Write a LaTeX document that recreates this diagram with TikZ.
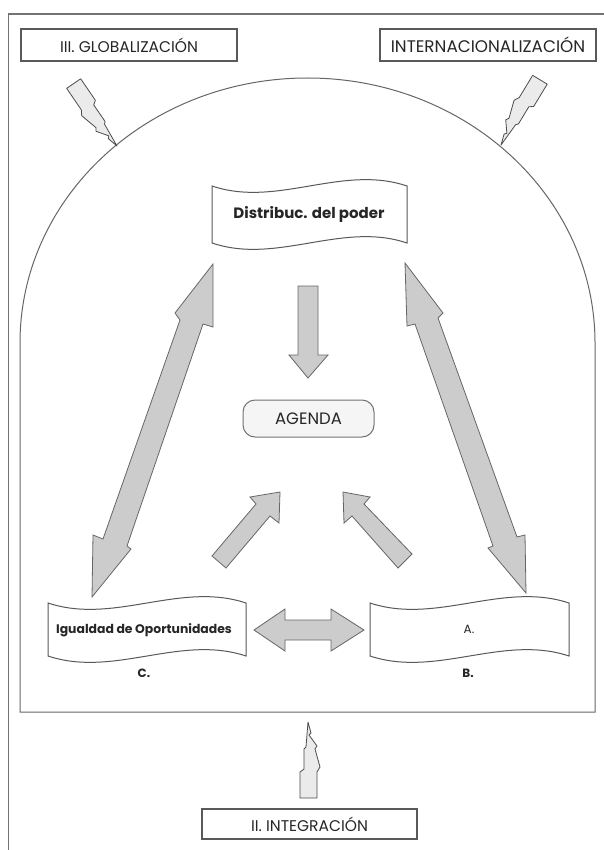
\documentclass[tikz,border=0pt]{standalone}
\usepackage{fontspec}
\setmainfont{Poppins}
\begin{document}
\begin{tikzpicture}[x=1pt,y=-1pt,
  frameline/.style={draw=black!55, line width=1.4pt},
  archline/.style={draw=black!60, line width=1pt},
  labelbox/.style={draw=black!65, line width=1.1pt, fill=white, inner sep=0pt, text=black!85},
  tapeline/.style={draw=black!65, line width=1pt, fill=white},
  blockarrow/.style={draw=black!60, line width=0.8pt, fill=black!20, line join=miter},
  bolt/.style={draw=black!70, line width=0.8pt, fill=black!8, line join=round},
  boldtxt/.style={font=\bfseries\fontsize{12}{14}\selectfont, text=black!85, inner sep=0pt},
  plaintxt/.style={font=\fontsize{12}{14}\selectfont, text=black!85, inner sep=0pt}
]
\useasboundingbox (0,0) rectangle (604,850);
\fill[white] (0,0) rectangle (604,850);

% outer frame (left and top edges)
\draw[frameline] (8.5,852) -- (8.5,14) -- (606,14);

% arch
\draw[archline, fill=white] (20,712) -- (20,343) arc[start angle=180, end angle=360, x radius=287.5, y radius=265] -- (595,712) -- cycle;

% label boxes
\node[labelbox, minimum width=216pt, minimum height=32pt, font=\fontsize{15.5}{17}\selectfont] (glob) at (129,45) {III. GLOBALIZACIÓN};
\node[labelbox, minimum width=216pt, minimum height=32pt, font=\fontsize{16.8}{18}\selectfont] (inter) at (488,45) {INTERNACIONALIZACIÓN};
\node[labelbox, minimum width=215pt, minimum height=30pt, font=\fontsize{15.5}{17}\selectfont] (integ) at (309.5,824) {II. INTEGRACIÓN};

% lightning bolts
\newcommand{\boltshape}{(0,0) -- (3,11) -- (1,13) -- (9,24) -- (7,27) -- (12,45) -- (9,50) -- (9,76) -- (-8,76) -- (-8,50) -- (-4,47) -- (-4,27) -- (-2,25) -- cycle}
\begin{scope}[shift={(117,146)}, rotate=-145.6]
  \draw[bolt] \boltshape;
\end{scope}
\begin{scope}[shift={(501,145)}, rotate=148.8]
  \draw[bolt] \boltshape;
\end{scope}
\begin{scope}[shift={(308,722)}]
  \draw[bolt] \boltshape;
\end{scope}

% tape boxes
\newcommand{\tape}[4]{%
  \draw[tapeline] (#1,#2) .. controls ({#1+#3/3},{#2+22}) and ({#1+2*#3/3},{#2-22}) .. ({#1+#3},#2)
    -- ({#1+#3},{#2+#4}) .. controls ({#1+2*#3/3},{#2+#4-22}) and ({#1+#3/3},{#2+#4+22}) .. (#1,{#2+#4}) -- cycle;}
\tape{212}{186}{195}{57}
\tape{48}{603}{198}{53}
\tape{370}{603}{199}{53}

\node[boldtxt, font=\bfseries\fontsize{15}{17}\selectfont] (dist) at (309,214) {Distribuc. del poder};
\node[boldtxt, font=\bfseries\fontsize{12.4}{14}\selectfont] (igual) at (144,630) {Igualdad de Oportunidades};
\node[plaintxt] (a) at (469,629) {A.};
\node[boldtxt] (c) at (144,673) {C.};
\node[boldtxt] (b) at (468,673) {B.};

% agenda
\node[draw=black!55, line width=1pt, fill=black!4, rounded corners=12pt, minimum width=131pt, minimum height=37pt, inner sep=0pt, text=black!85, font=\fontsize{16.5}{18}\selectfont] (agenda) at (308.5,418.5) {AGENDA};

% block arrows
\draw[blockarrow] (298,286) -- (318,286) -- (318,355) -- (328,355) -- (308,378) -- (289,355) -- (298,355) -- cycle;
\draw[blockarrow] (213,264) -- (213,327) -- (203,324) -- (127,546) -- (131,549) -- (92,597) -- (93,535) -- (103,539) -- (180,320) -- (175,313) -- cycle;
\draw[blockarrow] (405,263) -- (443,313) -- (438,318) -- (517,537) -- (525,535) -- (526,593) -- (488,548) -- (493,546) -- (415,324) -- (407,326) -- cycle;
\draw[blockarrow] (280,492) -- (279,523) -- (270,516) -- (226,568) -- (212,556) -- (256,504) -- (250,497) -- cycle;
\draw[blockarrow] (343,492) -- (370,497) -- (364,504) -- (412,554) -- (398,568) -- (352,516) -- (344,523) -- cycle;
\draw[blockarrow] (254,630) -- (285,609) -- (285,620) -- (331,620) -- (331,609) -- (364,630) -- (331,651) -- (331,640) -- (285,640) -- (285,651) -- cycle;
\end{tikzpicture}
\end{document}
